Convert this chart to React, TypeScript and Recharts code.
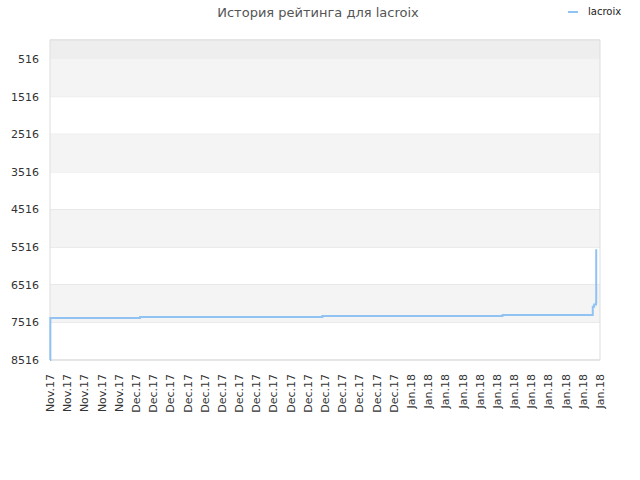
import { LineChart, Line, XAxis, YAxis, CartesianGrid, ReferenceArea } from "recharts";

// x position is measured in tick slots (one slot per date label)
const dayLabels = [
  ...Array(5).fill("Nov.17"),
  ...Array(16).fill("Dec.17"),
  ...Array(12).fill("Jan.18"),
];
const pointX = [0, 0.02, 5.24, 15.85, 26.33, 31.58, 31.66, 31.77, 31.78];
const pointRank = [8516, 7400, 7373, 7347, 7320, 7100, 7040, 6983, 5574];
const rankTicks = [516, 1516, 2516, 3516, 4516, 5516, 6516, 7516, 8516];
const grayBands: [number, number][] = [
  [516, 1516],
  [2516, 3516],
  [4516, 5516],
  [6516, 7516],
];

const data = pointX.map((x, i) => ({ x, rank: pointRank[i] }));
const slotTicks = dayLabels.map((_, i) => i);

const font = "'DejaVu Sans', sans-serif";

const DateTick = (props: any) => {
  const { x, y, payload } = props;
  return (
    <text
      x={x + 4}
      y={y + 6}
      transform={`rotate(-90, ${x + 4}, ${y + 6})`}
      textAnchor="end"
      fontSize={11}
      fontFamily={font}
      fill="#333"
    >
      {dayLabels[payload.value]}
    </text>
  );
};

export default function App() {
  return (
    <div style={{ position: "absolute", left: 0, top: 0, width: 640, height: 480, background: "#fff" }}>
      <div
        style={{
          position: "absolute",
          top: 5,
          left: 0,
          width: 636,
          textAlign: "center",
          fontFamily: font,
          fontSize: 13,
          color: "#555",
        }}
      >
        История рейтинга для lacroix
      </div>
      <div style={{ position: "absolute", top: 6, left: 568, fontFamily: font, fontSize: 10, color: "#222", display: "flex", alignItems: "center" }}>
        <span style={{ display: "inline-block", width: 10, height: 2, background: "#90c3f2", marginRight: 10 }} />
        lacroix
      </div>
      <LineChart width={640} height={480} data={data} margin={{ top: 40, right: 40, left: 0, bottom: 0 }}>
        {grayBands.map(([a, b]) => (
          <ReferenceArea key={a} x1={0} x2={32} y1={a} y2={b} fill="#f4f4f4" fillOpacity={1} strokeOpacity={0} />
        ))}
        <ReferenceArea x1={0} x2={32} y1={11} y2={516} fill="#eeeeee" fillOpacity={1} strokeOpacity={0} />
        <CartesianGrid vertical={false} stroke="#dddddd" strokeDasharray="" />
        <ReferenceArea x1={0} x2={32} y1={11} y2={8516} fill="none" stroke="#dddddd" strokeWidth={1} />
        <XAxis
          type="number"
          dataKey="x"
          domain={[0, 32]}
          ticks={slotTicks}
          interval={0}
          height={120}
          axisLine={false}
          tickLine={false}
          tick={<DateTick />}
        />
        <YAxis
          type="number"
          dataKey="rank"
          reversed
          domain={[11, 8516]}
          ticks={rankTicks}
          width={50}
          axisLine={false}
          tickLine={false}
          tickSize={0}
          tickMargin={11}
          tick={{ fontSize: 11, fontFamily: font, fill: "#333" }}
        />
        <Line
          type="stepAfter"
          dataKey="rank"
          stroke="#90c3f2"
          strokeWidth={2}
          dot={false}
          isAnimationActive={false}
        />
      </LineChart>
    </div>
  );
}
